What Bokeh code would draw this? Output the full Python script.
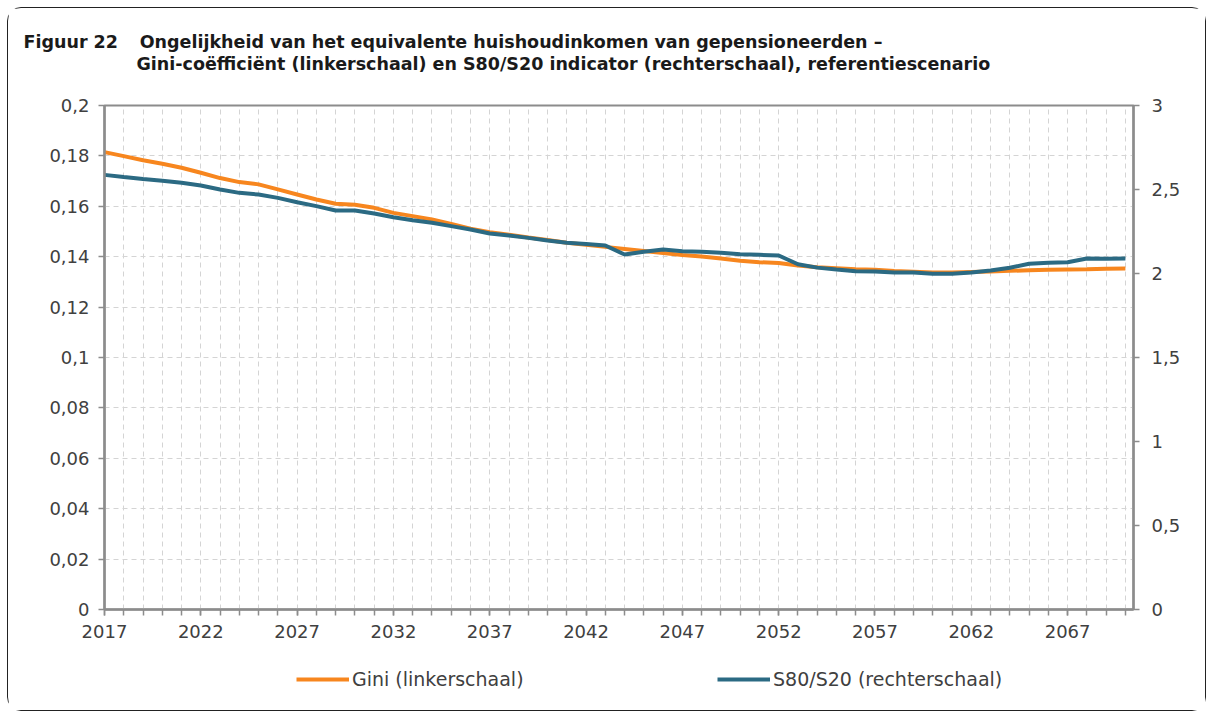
from bokeh.plotting import figure
from bokeh.layouts import column
from bokeh.models import Range1d, LinearAxis, FixedTicker, Legend, LegendItem, Title
from bokeh.embed import file_html
from bokeh.resources import INLINE

# ---- data ----
years = list(range(2017, 2071))
gini = [0.1815, 0.1799, 0.1783, 0.1769, 0.1753, 0.1733, 0.1712, 0.1696, 0.1687, 0.1667,
        0.1647, 0.1627, 0.1610, 0.1606, 0.1594, 0.1574, 0.1561, 0.1548, 0.1530, 0.1511,
        0.1497, 0.1487, 0.1476, 0.1466, 0.1455, 0.1447, 0.1439, 0.1431, 0.1423, 0.1415,
        0.1407, 0.1401, 0.1393, 0.1384, 0.1378, 0.1375, 0.1365, 0.1358, 0.1354, 0.1350,
        0.1348, 0.1343, 0.1340, 0.1337, 0.1337, 0.1339, 0.1341, 0.1344, 0.1346, 0.1348,
        0.1349, 0.1350, 0.1352, 0.1353]
s80s20 = [2.587, 2.574, 2.562, 2.552, 2.540, 2.524, 2.500, 2.480, 2.470, 2.450,
          2.424, 2.401, 2.375, 2.375, 2.357, 2.335, 2.317, 2.302, 2.282, 2.262,
          2.238, 2.226, 2.212, 2.196, 2.183, 2.175, 2.167, 2.113, 2.129, 2.143,
          2.133, 2.129, 2.123, 2.115, 2.111, 2.107, 2.055, 2.035, 2.024, 2.014,
          2.012, 2.006, 2.006, 1.998, 1.998, 2.006, 2.018, 2.034, 2.058, 2.064,
          2.067, 2.089, 2.088, 2.089]
x_label_years = [2017, 2022, 2027, 2032, 2037, 2042, 2047, 2052, 2057, 2062, 2067]
left_ticks = [0, 0.02, 0.04, 0.06, 0.08, 0.1, 0.12, 0.14, 0.16, 0.18, 0.2]
left_tick_labels = ["0", "0,02", "0,04", "0,06", "0,08", "0,1", "0,12", "0,14", "0,16", "0,18", "0,2"]
right_ticks = [0, 0.5, 1, 1.5, 2, 2.5, 3]
right_tick_labels = ["0", "0,5", "1", "1,5", "2", "2,5", "3"]
series_names = ["Gini (linkerschaal)", "S80/S20 (rechterschaal)"]
title_fig = "Figuur 22"
title_line1 = "Ongelijkheid van het equivalente huishoudinkomen van gepensioneerden –"
title_line2 = "Gini-coëfficiënt (linkerschaal) en S80/S20 indicator (rechterschaal), referentiescenario"

ORANGE = "#F7861E"
BLUE = "#2B6A83"
AXIS = "#8c8c8c"
TXT = "#404040"
FONT = "DejaVu Sans"

W = 1197
MAIN_H = 641
LEG_H = 61

p = figure(width=W, height=MAIN_H, output_backend="svg", toolbar_location=None,
           x_range=Range1d(2017, 2070.42), y_range=Range1d(0, 0.2),
           min_border_left=96, min_border_right=72, min_border_top=97, min_border_bottom=40)
p.extra_y_ranges = {"right": Range1d(0, 3)}
p.outline_line_color = AXIS
p.outline_line_width = 2

# titles: p.title is the outermost line; spacer is nearest the frame
p.title.text = title_fig + "\u00a0" * 3 + "\u2009" + title_line1
p.title.align = "left"
p.title.offset = 24 - 105
p.title.standoff = 0
spacer = Title(text="\u00a0", text_font_size="1px", standoff=29)
p.add_layout(spacer, "above")
t2 = Title(text=title_line2, align="left", offset=141 - 105 - 4, standoff=0)
p.add_layout(t2, "above")
for t in (p.title, t2):
    t.text_font = FONT
    t.text_font_size = "17.5px"
    t.text_font_style = "bold"
    t.text_color = "#1a1a1a"

# grids
p.xgrid.ticker = FixedTicker(ticks=years)
p.ygrid.ticker = FixedTicker(ticks=left_ticks)
for g in (p.xgrid, p.ygrid):
    g.grid_line_color = "#d4d4d4"
    g.grid_line_dash = "5 4"
    g.grid_line_width = 1

# axes
xa = p.xaxis[0]
xa.ticker = FixedTicker(ticks=x_label_years, minor_ticks=years)
ya = p.yaxis[0]
ya.ticker = FixedTicker(ticks=left_ticks)
ya.major_label_overrides = dict(zip(left_ticks, left_tick_labels))
ra = LinearAxis(y_range_name="right", ticker=FixedTicker(ticks=right_ticks))
ra.major_label_overrides = dict(zip(right_ticks, right_tick_labels))
p.add_layout(ra, "right")

for ax in (xa, ya, ra):
    ax.axis_line_color = AXIS
    ax.axis_line_width = 2.5
    ax.major_tick_line_color = AXIS
    ax.major_tick_line_width = 1.5
    ax.major_tick_out = 6
    ax.major_tick_in = 0
    ax.minor_tick_line_color = None
    ax.major_label_text_font = FONT
    ax.major_label_text_font_size = "18px"
    ax.major_label_text_color = TXT
xa.minor_tick_line_color = AXIS
xa.minor_tick_line_width = 1.5
xa.minor_tick_out = 6
xa.minor_tick_in = 0
xa.major_label_standoff = 9
ya.major_label_standoff = 9
ra.major_label_standoff = 12

p.line(years, gini, line_color=ORANGE, line_width=4)
p.line(years, s80s20, line_color=BLUE, line_width=4, y_range_name="right")

# legend strip (separate figure; its frame is aligned with the main frame)
lf = figure(width=W, height=LEG_H, output_backend="svg", toolbar_location=None,
            x_range=Range1d(0, 1), y_range=Range1d(0, 1),
            x_axis_location=None, y_axis_location=None,
            min_border_left=0, min_border_right=0, min_border_top=0, min_border_bottom=0)
lf.outline_line_color = None
lf.xgrid.visible = False
lf.ygrid.visible = False
lr1 = lf.line([-5, -4], [-5, -5], line_color=ORANGE, line_width=4)
lr2 = lf.line([-5, -4], [-5, -5], line_color=BLUE, line_width=4)
legend = Legend(items=[LegendItem(label=series_names[0], renderers=[lr1]),
                       LegendItem(label=series_names[1], renderers=[lr2])],
                orientation="horizontal", location=(297 - 105, LEG_H - 29.5 - 11),
                glyph_width=53, glyph_height=22, label_height=22, label_width=175,
                label_standoff=3, spacing=190, padding=0, margin=0,
                border_line_alpha=0, background_fill_alpha=0,
                label_text_font=FONT, label_text_font_size="19px", label_text_color=TXT)
lf.add_layout(legend, "center")

layout = column(p, lf, spacing=0)
layout.styles = {"margin": "7px 0 0 7px", "border": "1.5px solid #222222", "border-radius": "14px"}

open("out.html", "w").write(file_html(layout, INLINE))
